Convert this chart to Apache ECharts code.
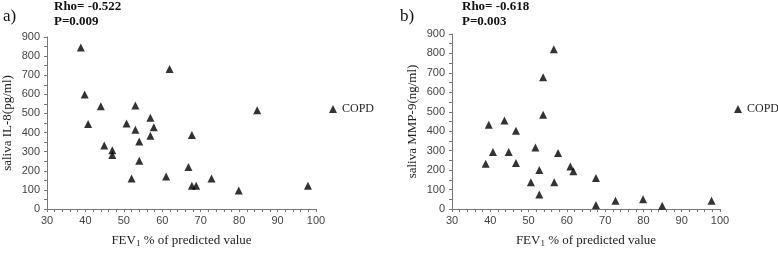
<!DOCTYPE html>
<html>
<head>
<meta charset="utf-8" />
<title>saliva IL-8 / MMP-9 vs FEV1</title>
<style>
  html, body { margin: 0; padding: 0; background: #fff; }
  #chart { width: 778px; height: 253px; }
</style>
</head>
<body>
<div id="chart"></div>
<script src="https://cdn.jsdelivr.net/npm/echarts@6/dist/echarts.min.js"></script>
<script>
// panel a) saliva IL-8
var aX = [38.8, 61.9, 39.8, 44, 53, 56.9, 84.7, 40.7, 50.7, 53, 57.8, 56.9, 54, 67.7, 44.9, 47, 47, 54, 66.8, 52, 61, 67.7, 68.8, 72.8, 79.9, 97.9];
var aY = [845, 733, 599, 538, 541, 478, 517, 445, 448, 415, 428, 383, 353, 387, 332, 308, 283, 253, 220, 160, 170, 122, 122, 160, 97, 122];
// panel b) saliva MMP-9
var bX = [56.6, 53.8, 53.8, 43.7, 39.6, 46.7, 40.7, 44.8, 38.8, 46.7, 51.8, 57.7, 52.8, 60.9, 61.7, 50.6, 56.7, 52.8, 67.6, 67.6, 72.7, 79.9, 84.9, 97.8];
var bY = [821, 677, 485, 455, 433, 402, 293, 293, 233, 236, 316, 288, 201, 218, 194, 137, 137, 75, 159, 20, 43, 50, 17, 43];

// ticks every 2 on x (labels every 10), every 50 on y (labels every 100)
var xTicks = { min: 30, max: 100, interval: 2, labelEvery: 10 };
var yTicks = { min: 0, max: 900, interval: 50, labelEvery: 100 };
var seriesName = 'COPD';

var serif = "'Liberation Serif', 'Times New Roman', serif";
var sans = "'Liberation Sans', Arial, sans-serif";
var axisColor = '#777';

function pairs(xs, ys) {
  var out = [];
  for (var i = 0; i < xs.length; i++) out.push([xs[i], ys[i]]);
  return out;
}

function every(n) {
  return function (v) { return v % n === 0 ? String(v) : ''; };
}

function xAxisOpt(idx) {
  return {
    type: 'value', gridIndex: idx,
    min: xTicks.min, max: xTicks.max, interval: xTicks.interval,
    name: 'FEV{sub|1} % of predicted value', nameLocation: 'middle', nameGap: 24,
    nameTextStyle: {
      fontFamily: serif, fontSize: 13, color: '#222',
      rich: { sub: { fontFamily: serif, fontSize: 9, color: '#222', verticalAlign: 'bottom', padding: [6, 0, 0, 0] } }
    },
    axisLine: { show: true, lineStyle: { color: axisColor, width: 1 } },
    axisTick: { show: true, inside: false, length: 3, lineStyle: { color: axisColor } },
    axisLabel: { fontFamily: sans, fontSize: 11, color: '#444', margin: 6, formatter: every(xTicks.labelEvery) },
    splitLine: { show: false }
  };
}

function yAxisOpt(idx, name) {
  return {
    type: 'value', gridIndex: idx,
    min: yTicks.min, max: yTicks.max, interval: yTicks.interval,
    name: name, nameLocation: 'middle', nameGap: 33, nameRotate: 90,
    nameTextStyle: { fontFamily: serif, fontSize: 13, color: '#222' },
    axisLine: { show: true, lineStyle: { color: axisColor, width: 1 } },
    axisTick: { show: true, inside: false, length: 3, lineStyle: { color: axisColor } },
    axisLabel: { fontFamily: sans, fontSize: 11, color: '#444', margin: 7, formatter: every(yTicks.labelEvery) },
    splitLine: { show: false }
  };
}

function legendOpt(idx, left) {
  return {
    seriesIndex: idx,
    data: [seriesName],
    left: left, top: 103, padding: 0,
    icon: 'triangle', itemWidth: 8, itemHeight: 8, itemGap: 5,
    textStyle: { fontFamily: serif, fontSize: 12, color: '#222' },
    selectedMode: false
  };
}

function textEl(x, y, str, size, bold) {
  return {
    type: 'text', left: x, top: y,
    style: { text: str, fontFamily: serif, fontSize: size, fontWeight: bold ? 'bold' : 'normal', fill: '#111' }
  };
}

var chart = echarts.init(document.getElementById('chart'));
chart.setOption({
  animation: false,
  grid: [
    { left: 47, top: 37, width: 269, height: 179 },
    { left: 452, top: 34, width: 268, height: 180 }
  ],
  xAxis: [xAxisOpt(0), xAxisOpt(1)],
  yAxis: [yAxisOpt(0, 'saliva IL-8(pg/ml)'), yAxisOpt(1, 'saliva MMP-9(ng/ml)')],
  legend: [legendOpt(0, 329), legendOpt(1, 734)],
  series: [
    { name: seriesName, type: 'scatter', xAxisIndex: 0, yAxisIndex: 0, symbol: 'triangle', symbolSize: 8,
      itemStyle: { color: '#000' }, data: pairs(aX, aY) },
    { name: seriesName, type: 'scatter', xAxisIndex: 1, yAxisIndex: 1, symbol: 'triangle', symbolSize: 8,
      itemStyle: { color: '#000' }, data: pairs(bX, bY) }
  ],
  graphic: [
    textEl(3, 8, 'a)', 17, false),
    textEl(54, 0, 'Rho= -0.522', 13, true),
    textEl(54, 15, 'P=0.009', 13, true),
    textEl(400, 8, 'b)', 17, false),
    textEl(462, 0, 'Rho= -0.618', 13, true),
    textEl(462, 15, 'P=0.003', 13, true)
  ]
});
</script>
</body>
</html>
